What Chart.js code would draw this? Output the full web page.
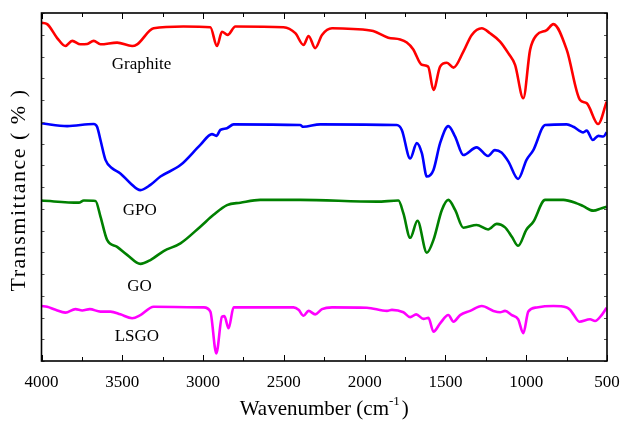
<!DOCTYPE html>
<html>
<head>
<meta charset="utf-8">
<script src="https://cdn.jsdelivr.net/npm/chart.js@4/dist/chart.umd.min.js"></script>
<style>
  html, body { margin: 0; padding: 0; background: #fff; }
  #wrap { width: 622px; height: 421px; }
</style>
</head>
<body>
<div id="wrap"><canvas id="ftir" width="622" height="421"></canvas></div>
<script>
// FTIR spectra, stacked with vertical offsets (arbitrary transmittance units)
const xTicks = [4000, 3500, 3000, 2500, 2000, 1500, 1000, 500];
const seriesNames = ['Graphite', 'GPO', 'GO', 'LSGO'];

const graphiteWn = [4000, 3965, 3903, 3852, 3810, 3759, 3717, 3677, 3635, 3532, 3439, 3408, 3306, 3122, 2955, 2914, 2883, 2848, 2800, 2502, 2429, 2378, 2347, 2306, 2264, 2202, 2071, 1947, 1854, 1780, 1739, 1700, 1646, 1607, 1574, 1533, 1491, 1450, 1389, 1337, 1275, 1224, 1162, 1110, 1069, 1018, 976, 935, 873, 832, 749, 667, 626, 555, 502];
const graphiteT  = [97.2, 96.8, 92.8, 90.5, 92.0, 91.0, 91.1, 92.0, 91.0, 91.5, 90.5, 91.0, 95.6, 96.1, 95.9, 90.5, 94.6, 93.7, 96.1, 95.9, 94.2, 90.8, 93.4, 89.9, 93.7, 95.6, 95.4, 94.8, 92.9, 92.4, 91.5, 89.6, 85.1, 84.6, 77.9, 84.6, 85.7, 84.3, 88.9, 93.7, 95.6, 94.2, 91.8, 88.4, 85.1, 75.5, 89.4, 93.7, 95.1, 96.8, 89.4, 75.0, 74.1, 68.1, 74.5];

const gpoWn = [4000, 3841, 3677, 3656, 3635, 3604, 3563, 3512, 3450, 3388, 3326, 3264, 3140, 3017, 2945, 2918, 2893, 2852, 2811, 2399, 2380, 2275, 1801, 1770, 1718, 1677, 1646, 1615, 1574, 1533, 1482, 1440, 1389, 1307, 1236, 1194, 1153, 1110, 1050, 998, 956, 883, 749, 708, 647, 626, 588, 554, 523, 502];
const gpoT  = [68.3, 67.5, 68.1, 67.3, 63.5, 57.8, 55.4, 53.9, 51.1, 49.1, 50.6, 53.0, 56.3, 62.1, 65.2, 64.7, 66.4, 66.9, 68.0, 67.8, 67.3, 68.0, 67.8, 66.4, 58.2, 62.6, 59.7, 53.0, 54.9, 62.6, 67.5, 64.5, 59.2, 61.4, 58.9, 60.6, 59.9, 57.3, 52.3, 57.8, 60.6, 67.8, 68.0, 67.3, 65.7, 66.2, 63.5, 64.7, 64.5, 65.7];

const goWn = [4000, 3769, 3738, 3666, 3635, 3594, 3532, 3470, 3388, 3326, 3244, 3140, 3017, 2935, 2852, 2769, 2646, 2399, 1924, 1791, 1760, 1718, 1673, 1615, 1574, 1522, 1482, 1440, 1389, 1307, 1236, 1182, 1131, 1089, 1050, 998, 956, 883, 770, 687, 647, 585, 533, 502];
const goT  = [46.1, 45.5, 46.1, 46.0, 41.5, 34.8, 32.8, 30.5, 27.9, 29.0, 31.6, 33.8, 38.6, 42.0, 44.8, 45.5, 46.3, 46.3, 45.8, 46.1, 42.4, 35.4, 40.3, 31.1, 34.8, 43.4, 46.3, 43.4, 38.3, 39.1, 37.8, 39.4, 38.4, 35.7, 33.1, 37.8, 40.0, 46.3, 46.3, 45.3, 44.5, 43.2, 43.9, 44.3];

const lsgoWn = [4000, 3965, 3913, 3852, 3790, 3748, 3701, 3635, 3573, 3512, 3439, 3388, 3306, 2996, 2955, 2918, 2883, 2868, 2842, 2811, 2440, 2409, 2378, 2347, 2306, 2264, 2202, 1986, 1862, 1831, 1760, 1718, 1681, 1636, 1605, 1574, 1533, 1482, 1450, 1409, 1347, 1275, 1203, 1162, 1131, 1089, 1050, 1018, 987, 935, 832, 749, 728, 708, 671, 605, 574, 533, 502];
const lsgoT  = [15.8, 15.6, 14.7, 13.9, 14.9, 14.5, 14.9, 14.2, 14.2, 13.4, 12.3, 13.2, 15.6, 15.4, 14.2, 2.2, 12.7, 12.9, 9.4, 15.4, 15.4, 14.7, 13.0, 14.4, 13.4, 14.9, 15.4, 15.3, 14.4, 14.7, 14.0, 12.6, 13.4, 12.1, 12.4, 8.4, 10.8, 13.2, 11.3, 13.2, 14.4, 15.8, 14.4, 14.0, 14.4, 13.2, 12.0, 8.0, 14.2, 15.4, 15.8, 15.4, 14.7, 13.4, 11.3, 12.0, 11.5, 13.2, 15.3];

// Series label anchors (wavenumber, transmittance units)
const labelWn = [3381, 3392, 3393, 3410];
const labelT  = [85.3, 43.1, 21.3, 7.0];

const serif = '"Liberation Serif", "DejaVu Serif", serif';

function pairs(xs, ys) { return xs.map((x, i) => ({ x: x, y: ys[i] })); }

function line(name, xs, ys, color) {
  return {
    label: name,
    data: pairs(xs, ys),
    borderColor: color,
    backgroundColor: color,
    borderWidth: 2.6,
    pointRadius: 0,
    fill: false,
    cubicInterpolationMode: 'monotone'
  };
}

// Frame, inward tick marks, series labels and axis titles
const decor = {
  id: 'decor',
  afterDraw(chart) {
    const ctx = chart.ctx;
    const a = chart.chartArea;
    const xs = chart.scales.x, ys = chart.scales.y;
    ctx.save();
    ctx.strokeStyle = '#000';
    ctx.lineWidth = 1;
    // x ticks: major every 500, minor every 250, on bottom and top
    for (let v = 500; v <= 4000; v += 250) {
      const px = Math.round(xs.getPixelForValue(v)) + 0.5;
      const len = (v % 500 === 0) ? 6 : 4;
      ctx.beginPath();
      ctx.moveTo(px, a.bottom); ctx.lineTo(px, a.bottom - len);
      ctx.moveTo(px, a.top); ctx.lineTo(px, a.top + len);
      ctx.stroke();
    }
    // y ticks on left and right
    ctx.strokeStyle = '#555';
    ys.ticks.forEach(t => {
      const py = Math.round(ys.getPixelForValue(t.value)) + 0.5;
      ctx.beginPath();
      ctx.moveTo(a.left, py); ctx.lineTo(a.left + 3, py);
      ctx.moveTo(a.right, py); ctx.lineTo(a.right - 3, py);
      ctx.stroke();
    });
    // frame
    ctx.strokeStyle = '#000';
    ctx.lineWidth = 1.6;
    ctx.strokeRect(a.left, a.top, a.right - a.left, a.bottom - a.top);

    // series labels
    ctx.fillStyle = '#000';
    ctx.font = '17px ' + serif;
    ctx.textAlign = 'center';
    ctx.textBaseline = 'middle';
    seriesNames.forEach((n, i) => {
      ctx.fillText(n, xs.getPixelForValue(labelWn[i]), ys.getPixelForValue(labelT[i]));
    });

    // x title with superscript
    ctx.font = '21px ' + serif;
    ctx.textAlign = 'left';
    ctx.textBaseline = 'alphabetic';
    const main = 'Wavenumber (cm';
    const sup = '-1';
    const close = ')';
    const wMain = ctx.measureText(main).width;
    ctx.font = '13px ' + serif;
    const wSup = ctx.measureText(sup).width;
    ctx.font = '21px ' + serif;
    const wClose = ctx.measureText(close).width;
    const total = wMain + wSup + 2 + wClose;
    const cx = (a.left + a.right) / 2;
    let x0 = cx - total / 2;
    const base = 415;
    ctx.fillText(main, x0, base);
    ctx.font = '13px ' + serif;
    ctx.fillText(sup, x0 + wMain, base - 10);
    ctx.font = '21px ' + serif;
    ctx.fillText(close, x0 + wMain + wSup + 2, base);

    // y title
    ctx.font = '22px ' + serif;
    ctx.letterSpacing = '1.5px';
    ctx.translate(19, 190);
    ctx.rotate(-Math.PI / 2);
    ctx.textAlign = 'center';
    ctx.textBaseline = 'middle';
    ctx.fillText('Transmittance ( % )', 0, 0);
    ctx.restore();
  }
};

new Chart(document.getElementById('ftir'), {
  type: 'line',
  data: {
    datasets: [
      line(seriesNames[0], graphiteWn, graphiteT, '#ff0000'),
      line(seriesNames[1], gpoWn, gpoT, '#0000ff'),
      line(seriesNames[2], goWn, goT, '#008000'),
      line(seriesNames[3], lsgoWn, lsgoT, '#ff00ff')
    ]
  },
  options: {
    responsive: false,
    animation: false,
    devicePixelRatio: 1,
    layout: { padding: { left: 0, right: 15, top: 13, bottom: 0 } },
    plugins: { legend: { display: false }, tooltip: { enabled: false } },
    scales: {
      x: {
        type: 'linear',
        reverse: true,
        min: 500,
        max: 4000,
        afterBuildTicks(scale) { scale.ticks = xTicks.map(v => ({ value: v })); },
        afterFit(scale) {
          scale.height = 60;
          scale.paddingLeft = 0;
          scale.paddingRight = 0;
        },
        grid: { display: false, drawTicks: false },
        border: { display: false },
        ticks: {
          color: '#000',
          font: { family: serif, size: 17 },
          padding: 11,
          maxRotation: 0,
          autoSkip: false,
          callback: v => String(v)
        }
      },
      y: {
        type: 'linear',
        min: 0,
        max: 100,
        afterFit(scale) { scale.width = 41.5; },
        grid: { display: false, drawTicks: false },
        border: { display: false },
        ticks: { display: false, stepSize: 6.25 }
      }
    }
  },
  plugins: [decor]
});
</script>
</body>
</html>
